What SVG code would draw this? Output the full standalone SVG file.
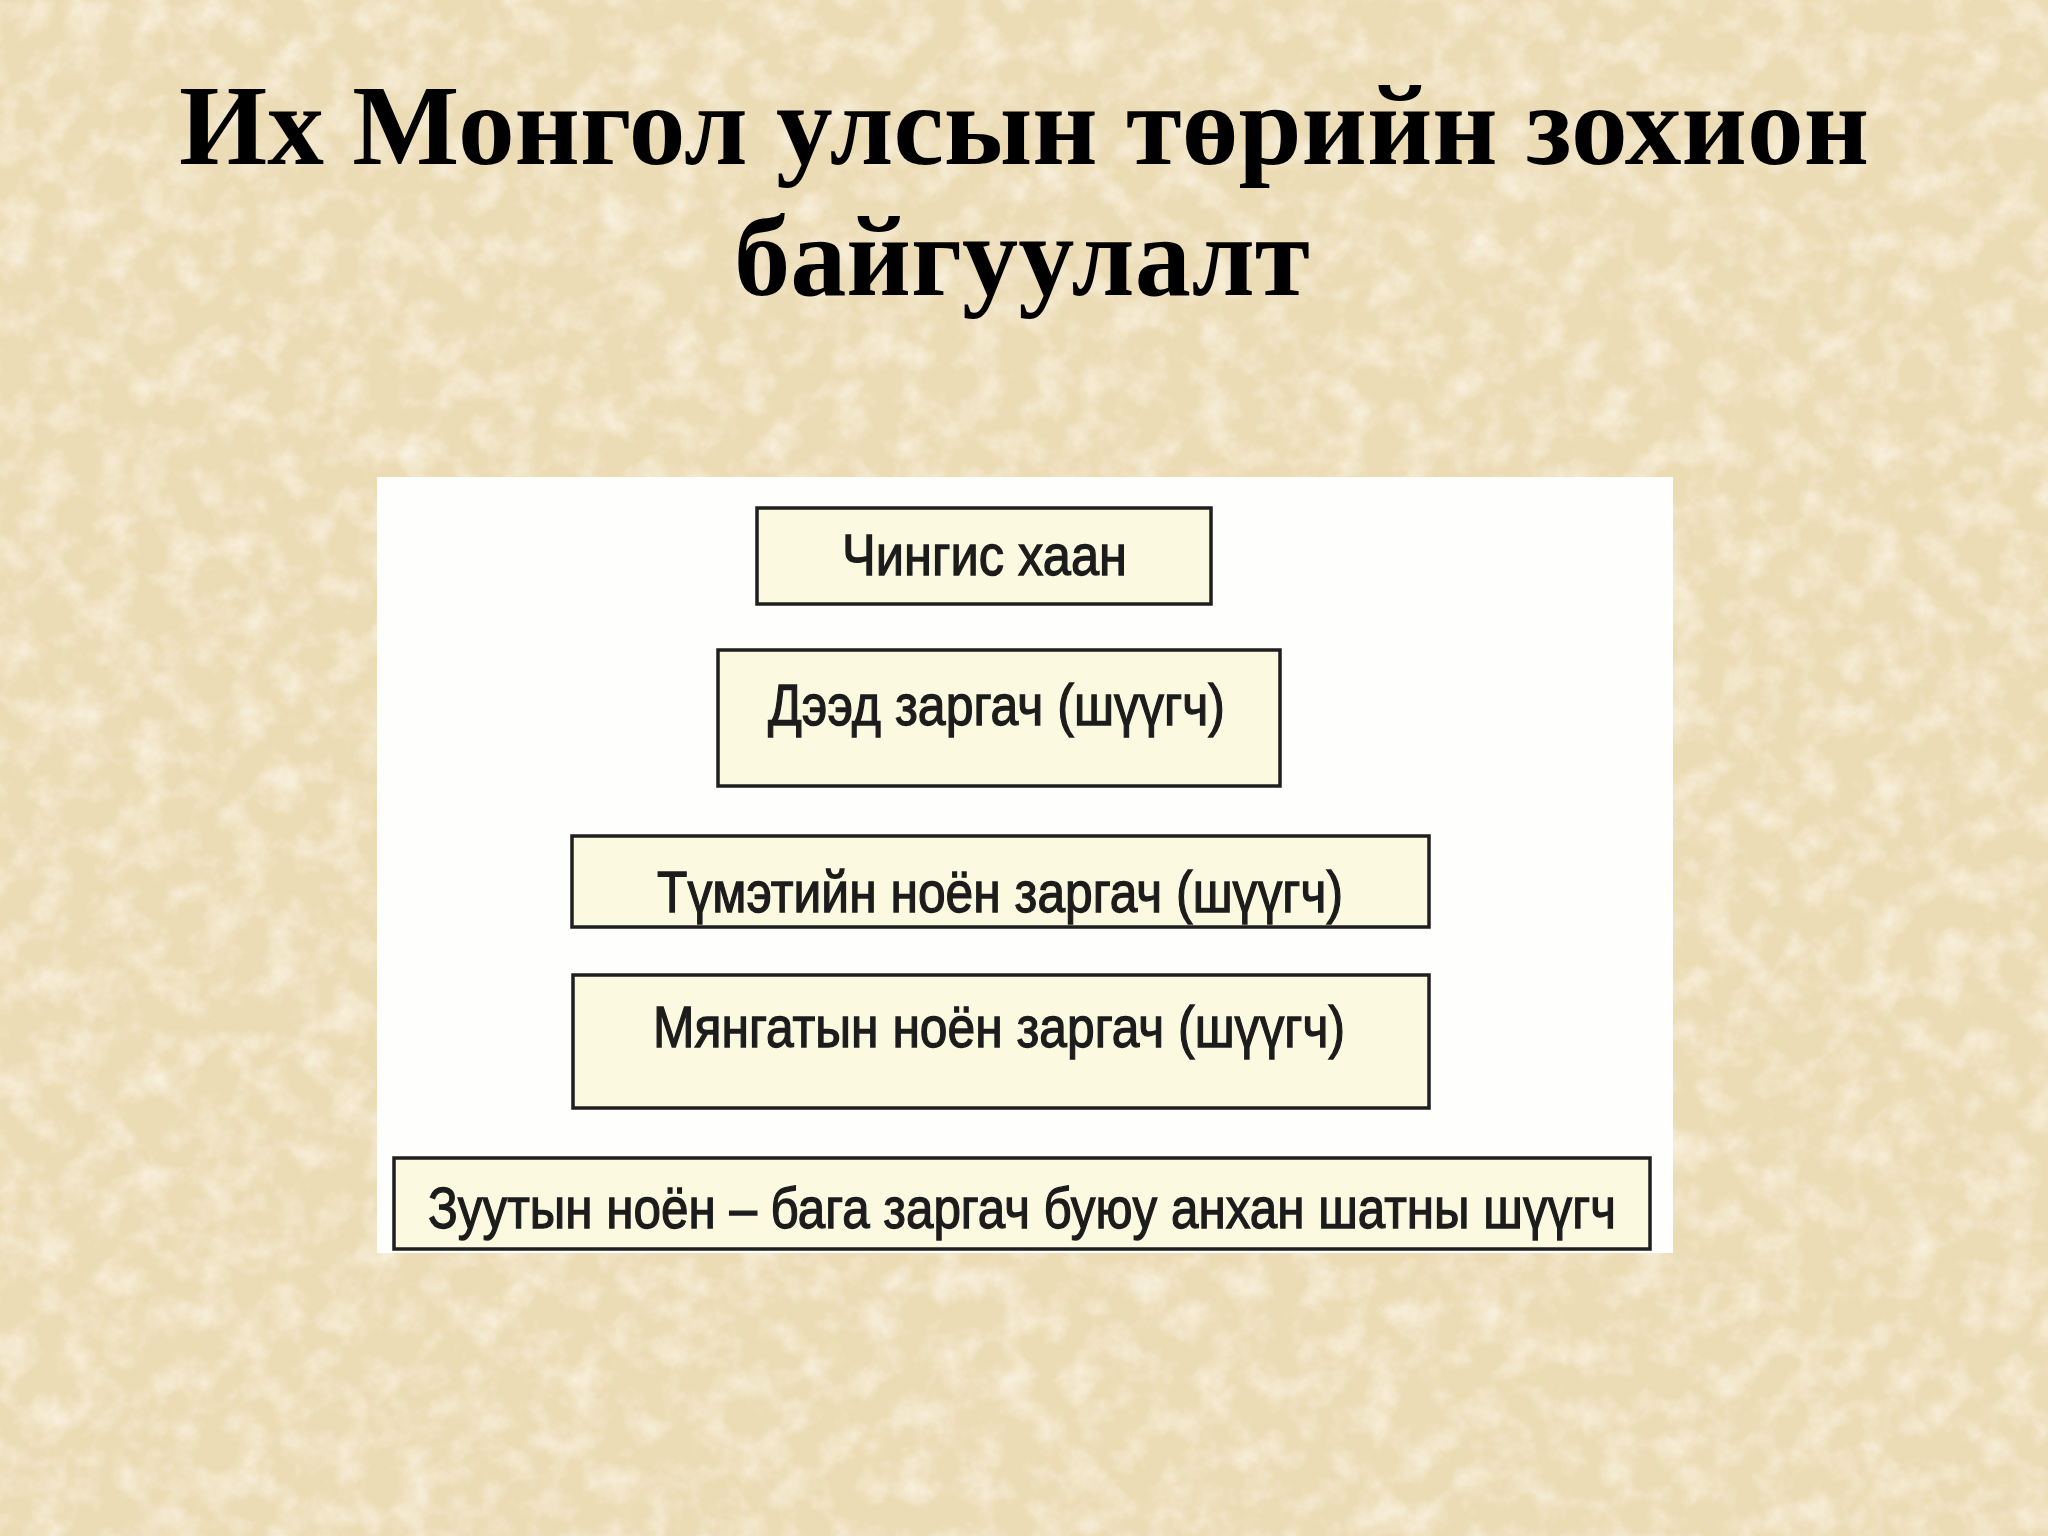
<svg xmlns="http://www.w3.org/2000/svg" width="2048" height="1536" viewBox="0 0 2048 1536">
  <defs>
    <filter id="paper" x="0" y="0" width="100%" height="100%" filterUnits="userSpaceOnUse">
      <feTurbulence type="fractalNoise" baseFrequency="0.008" numOctaves="5" seed="7" result="n"/>
      <feColorMatrix in="n" type="matrix" values="0 0 0 0 0.84  0 0 0 0 0.71  0 0 0 0 0.46  0 0 0 1.5 -0.62"/>
    </filter>
    <filter id="paper2" x="0" y="0" width="100%" height="100%" filterUnits="userSpaceOnUse">
      <feTurbulence type="fractalNoise" baseFrequency="0.03" numOctaves="4" seed="19" result="n"/>
      <feColorMatrix in="n" type="matrix" values="0 0 0 0 1  0 0 0 0 0.97  0 0 0 0 0.90  0 0 0 1.3 -0.55"/>
    </filter>
    <style>
      .title { font-family: "Liberation Serif", "Times New Roman", serif; font-weight: bold; font-size: 115px; fill: #000; }
      .box { fill: #fbf9e0; stroke: #1f1f1f; stroke-width: 3.5; }
      .lbl { font-family: "Liberation Sans", Arial, sans-serif; font-size: 58px; fill: #1c1c1c; stroke: #1c1c1c; stroke-width: 1.3; }
    </style>
  </defs>

  <!-- parchment background -->
  <rect x="0" y="0" width="2048" height="1536" fill="#ecdcb6"/>
  <rect x="0" y="0" width="2048" height="1536" filter="url(#paper)"/>
  <rect x="0" y="0" width="2048" height="1536" filter="url(#paper2)"/>

  <!-- title -->
  <g id="title">
    <text class="title" x="1024" y="164" text-anchor="middle" textLength="1690" lengthAdjust="spacingAndGlyphs">Их Монгол улсын төрийн зохион</text>
    <text class="title" x="1022" y="295" text-anchor="middle" textLength="576" lengthAdjust="spacingAndGlyphs">байгуулалт</text>
  </g>

  <!-- white scanned panel -->
  <rect id="panel" x="377" y="477" width="1296" height="776" fill="#fefefd"/>

  <g id="node-chingis">
    <rect class="box" x="757" y="508" width="454" height="96"/>
    <text class="lbl" x="842" y="575" textLength="285" lengthAdjust="spacingAndGlyphs">Чингис хаан</text>
  </g>

  <g id="node-deed">
    <rect class="box" x="718" y="650" width="562" height="136"/>
    <text class="lbl" x="768" y="725" textLength="457" lengthAdjust="spacingAndGlyphs">Дээд заргач (шүүгч)</text>
  </g>

  <g id="node-tumen">
    <rect class="box" x="572" y="836" width="857" height="91"/>
    <text class="lbl" x="657" y="912" textLength="686" lengthAdjust="spacingAndGlyphs">Түмэтийн ноён заргач (шүүгч)</text>
  </g>

  <g id="node-myangat">
    <rect class="box" x="573" y="975" width="856" height="133"/>
    <text class="lbl" x="653" y="1047" textLength="692" lengthAdjust="spacingAndGlyphs">Мянгатын ноён заргач (шүүгч)</text>
  </g>

  <g id="node-zuut">
    <rect class="box" x="394" y="1158" width="1256" height="91"/>
    <text class="lbl" x="428" y="1228" textLength="1188" lengthAdjust="spacingAndGlyphs">Зуутын ноён – бага заргач буюу анхан шатны шүүгч</text>
  </g>

  <g id="connectors"></g>
</svg>
